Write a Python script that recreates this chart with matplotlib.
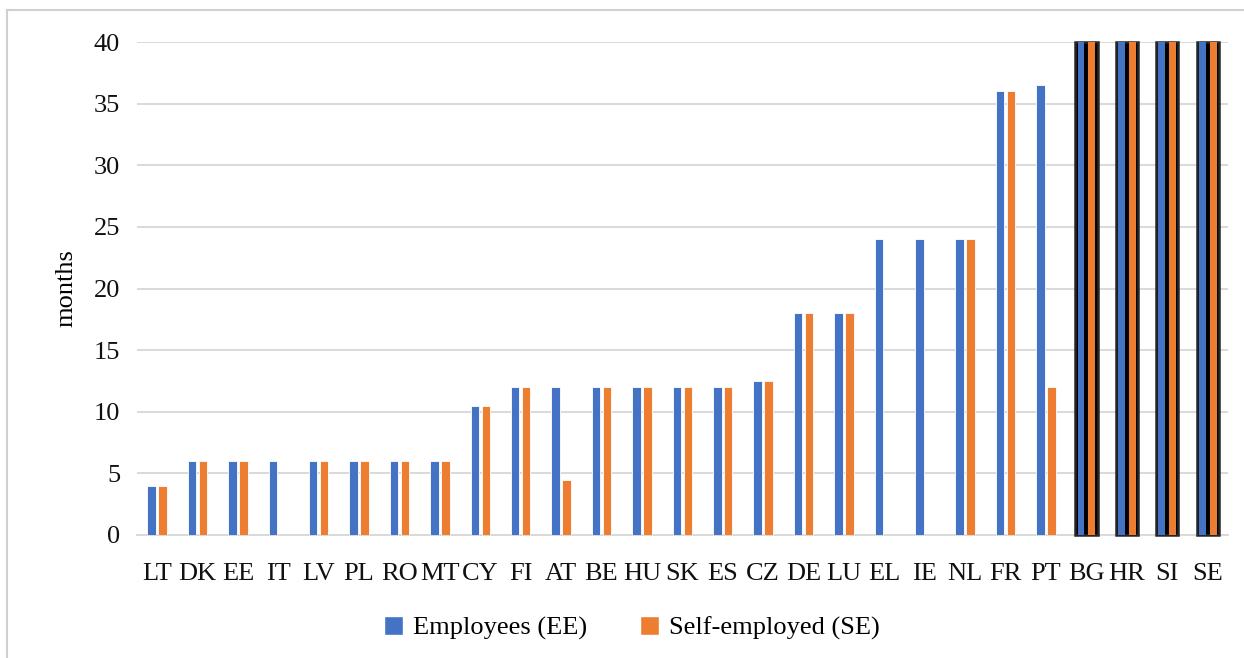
import matplotlib
matplotlib.use("Agg")
import matplotlib.pyplot as plt
from matplotlib.lines import Line2D
from matplotlib.patches import Patch
import numpy as np

# maximum duration of benefit, in months, by country
countries = ["LT", "DK", "EE", "IT", "LV", "PL", "RO", "MT", "CY", "FI", "AT", "BE", "HU",
             "SK", "ES", "CZ", "DE", "LU", "EL", "IE", "NL", "FR", "PT", "BG", "HR", "SI", "SE"]
employees = [4, 6, 6, 6, 6, 6, 6, 6, 10.5, 12, 12, 12, 12,
             12, 12, 12.5, 18, 18, 24, 24, 24, 36, 36.5, 40, 40, 40, 40]
self_employed = [4, 6, 6, 0, 6, 6, 6, 6, 10.5, 12, 4.5, 12, 12,
                 12, 12, 12.5, 18, 18, 0, 0, 24, 36, 12, 40, 40, 40, 40]
# countries drawn with a black frame (open-ended duration)
framed = ["BG", "HR", "SI", "SE"]

blue = "#4472C4"
orange = "#ED7D31"
grid = "#d9d9d9"

plt.rcParams["font.family"] = ["Liberation Serif", "DejaVu Serif"]

fig = plt.figure(figsize=(12.44, 6.58), dpi=100)
ax = fig.add_axes([0.110, 0.187, 0.877, 0.749])

x = np.arange(len(countries))
normal = np.array([c not in framed for c in countries])
emp = np.array(employees, dtype=float)
se = np.array(self_employed, dtype=float)

w = 0.21
off = 0.135
ax.bar(x[normal] - off, emp[normal], w, color=blue, edgecolor="white", linewidth=0.6, zorder=3)
ax.bar(x[normal] + off, se[normal], w, color=orange, edgecolor="white", linewidth=0.6, zorder=3)

# framed groups: black block behind two narrower bars
fx = x[~normal]
ax.bar(fx, emp[~normal], 0.55, color="black", edgecolor="#262626", linewidth=1.8,
       zorder=3, clip_on=False)
ax.bar(fx - 0.135, emp[~normal], 0.17, color=blue, linewidth=0, zorder=4)
ax.bar(fx + 0.135, se[~normal], 0.17, color=orange, linewidth=0, zorder=4)

ax.set_xlim(-0.5, len(countries) - 0.5)
ax.set_ylim(0, 40)
ax.set_yticks(range(0, 41, 5))
ax.set_xticks(x)
ax.set_xticklabels(countries)
ax.yaxis.grid(True, color=grid, linewidth=1.4, zorder=0)
ax.set_axisbelow(True)
for s in ["top", "right", "left"]:
    ax.spines[s].set_visible(False)
ax.spines["bottom"].set_color(grid)
ax.spines["bottom"].set_linewidth(1.4)
ax.tick_params(axis="both", length=0, labelsize=19, colors="#111111")
ax.tick_params(axis="x", pad=20)
ax.tick_params(axis="y", pad=12)
ax.set_ylabel("months", fontsize=19, labelpad=12)

handles = [Patch(facecolor=blue, edgecolor="white"), Patch(facecolor=orange, edgecolor="white")]
fig.legend(handles, ["Employees (EE)", "Self-employed (SE)"], loc="center",
           bbox_to_anchor=(0.508, 0.045), ncol=2, frameon=False, fontsize=19,
           handlelength=0.7, handleheight=0.7, handletextpad=0.4, columnspacing=2.0)

# light frame around the chart area
fig.add_artist(Line2D([7 / 1244, 7 / 1244], [0, 648 / 658], transform=fig.transFigure,
                      color="#d0d0d0", linewidth=1.5))
fig.add_artist(Line2D([7 / 1244, 1], [648 / 658, 648 / 658], transform=fig.transFigure,
                      color="#d0d0d0", linewidth=1.5))

fig.savefig("out.png", dpi=100, facecolor="white")
